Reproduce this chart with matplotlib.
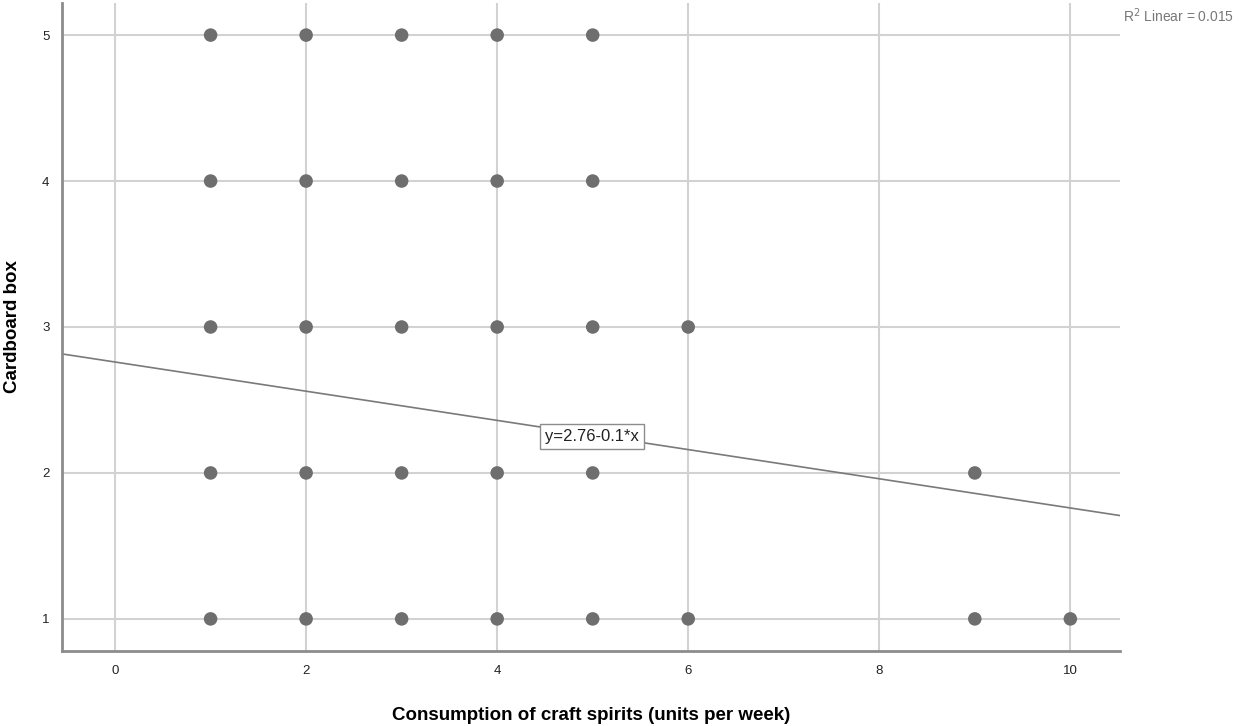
import matplotlib
matplotlib.use("Agg")
import matplotlib.pyplot as plt
import numpy as np

plt.rcParams['font.family'] = ['Liberation Sans', 'DejaVu Sans']

# observed (consumption, rating) pairs
spirits = [1, 2, 3, 4, 5,
           1, 2, 3, 4, 5,
           1, 2, 3, 4, 5, 6,
           1, 2, 3, 4, 5, 9,
           1, 2, 3, 4, 5, 6, 9, 10]
cardboard = [5, 5, 5, 5, 5,
             4, 4, 4, 4, 4,
             3, 3, 3, 3, 3, 3,
             2, 2, 2, 2, 2, 2,
             1, 1, 1, 1, 1, 1, 1, 1]

intercept = 2.76
slope = -0.1
r2 = 0.015

xticks = [0, 2, 4, 6, 8, 10]
yticks = [1, 2, 3, 4, 5]

fig = plt.figure(figsize=(12.51, 7.26), dpi=100)
ax = fig.add_axes([0.0496, 0.1033, 0.8457, 0.8926])

xlim = (-0.555, 10.52)
ax.set_xlim(*xlim)
ax.set_ylim(0.78, 5.22)

ax.set_xticks(xticks)
ax.set_yticks(yticks)
ax.grid(True, color='#d2d2d2', linewidth=1.5)
ax.set_axisbelow(True)

for s in ['top', 'right']:
    ax.spines[s].set_visible(False)
for s in ['left', 'bottom']:
    ax.spines[s].set_color('#8c8c8c')
    ax.spines[s].set_linewidth(2)

ax.tick_params(length=0, labelsize=9.5, colors='#222222')
ax.tick_params(axis='x', pad=10)
ax.tick_params(axis='y', pad=9)

# fit line across the full x range
xs = np.array(xlim)
ax.plot(xs, intercept + slope * xs, color='#7a7a7a', linewidth=1.2, zorder=2)

ax.scatter(spirits, cardboard, s=95, color='#6e6e6e', edgecolors='none', zorder=3)

ax.text(4.99, 2.253, 'y=2.76-0.1*x', ha='center', va='center', fontsize=12,
        color='#222222', zorder=4,
        bbox=dict(boxstyle='square,pad=0.3', facecolor='white', edgecolor='#8c8c8c', linewidth=1))

fig.text(0.898, 0.978, 'R$^2$ Linear = ' + str(r2), fontsize=10, color='#777777', ha='left', va='center')

ax.set_xlabel('Consumption of craft spirits (units per week)', fontsize=13.5, fontweight='bold', va='center')
ax.xaxis.set_label_coords(0.5, -0.099)
ax.set_ylabel('Cardboard box', fontsize=13.5, fontweight='bold', va='center')
ax.yaxis.set_label_coords(-0.047, 0.5)

fig.savefig('out.png', dpi=100)
